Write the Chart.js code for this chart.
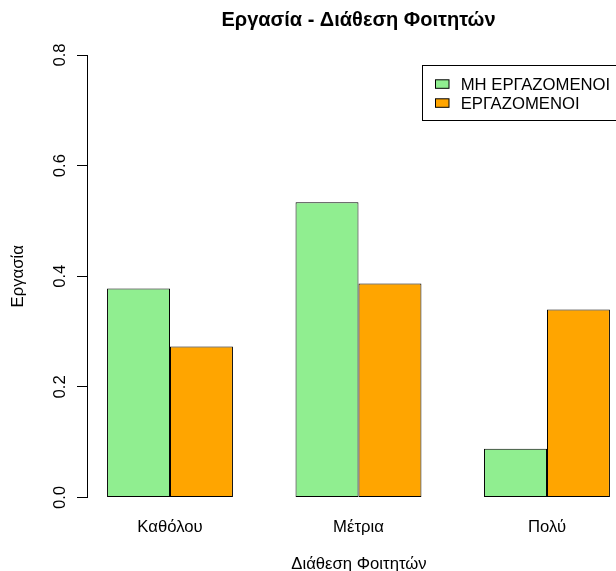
<!DOCTYPE html>
<html><head><meta charset="utf-8">
<script src="https://cdn.jsdelivr.net/npm/chart.js@4/dist/chart.umd.min.js"></script>
<style>
html,body{margin:0;padding:0;overflow:hidden;background:#fff;width:616px;height:571px}
canvas{display:block}
</style></head>
<body>
<canvas id="c" width="640" height="580" style="width:640px;height:580px"></canvas>
<script>
const categories = ['Καθόλου', 'Μέτρια', 'Πολύ'];
const seriesNames = ['ΜΗ ΕΡΓΑΖΟΜΕΝΟΙ', 'ΕΡΓΑΖΟΜΕΝΟΙ'];
const notWorking = [0.378, 0.534, 0.088];
const working = [0.273, 0.387, 0.340];
const yTicks = [0, 0.2, 0.4, 0.6, 0.8];
const yTickLabels = ['0.0', '0.2', '0.4', '0.6', '0.8'];
const chartTitle = 'Εργασία - Διάθεση Φοιτητών';
const xTitle = 'Διάθεση Φοιτητών';
const yTitle = 'Εργασία';
const colors = ['#90EE90', '#FFA500'];

const FONT = "'Liberation Sans', Arial, sans-serif";
const FS = 16.7;
Chart.defaults.font.family = FONT;
Chart.defaults.color = '#000';

const rStyle = {
  id: 'rStyle',
  afterDraw(chart) {
    const ctx = chart.ctx, y = chart.scales.y;
    ctx.save();
    ctx.fillStyle = '#000';
    ctx.font = FS + 'px ' + FONT;
    ctx.textAlign = 'center';
    ctx.textBaseline = 'middle';
    yTicks.forEach((v, i) => {
      const py = y.getPixelForValue(v);
      ctx.save();
      ctx.translate(y.left - 16.5, py);
      ctx.rotate(-Math.PI / 2);
      ctx.fillText(yTickLabels[i], 0, 0);
      ctx.restore();
    });
    ctx.save();
    ctx.translate(18.7, (y.top + y.bottom) / 2);
    ctx.rotate(-Math.PI / 2);
    ctx.fillText(yTitle, 0, 0);
    ctx.restore();

    // legend box (R style)
    ctx.lineWidth = 1;
    ctx.strokeStyle = '#000';
    ctx.strokeRect(422.5, 65.5, 300, 55);
    const rows = [85.3, 104.3];
    seriesNames.forEach((name, i) => {
      ctx.fillStyle = colors[i];
      ctx.fillRect(435.5, rows[i] - 5.5, 13.5, 8.5);
      ctx.strokeRect(435.5, rows[i] - 5.5, 13.5, 8.5);
      ctx.fillStyle = '#000';
      ctx.textAlign = 'left';
      ctx.fillText(name, 460.7, rows[i]);
    });
    ctx.restore();
  }
};

new Chart(document.getElementById('c'), {
  type: 'bar',
  data: {
    datasets: [
      { label: seriesNames[0], data: notWorking.map((v, i) => ({ x: i + 1, y: v })),
        backgroundColor: colors[0], borderColor: '#000', borderWidth: 1, borderSkipped: false },
      { label: seriesNames[1], data: working.map((v, i) => ({ x: i + 1, y: v })),
        backgroundColor: colors[1], borderColor: '#000', borderWidth: 1, borderSkipped: false }
    ]
  },
  options: {
    responsive: false,
    animation: false,
    devicePixelRatio: 1,
    categoryPercentage: 0.668,
    barPercentage: 1.0,
    layout: { padding: { left: 77, right: 0, top: 0, bottom: 0 } },
    plugins: {
      legend: { display: false },
      tooltip: { enabled: false },
      title: {
        display: true, text: chartTitle, color: '#000',
        font: { size: 20, weight: 'bold', family: FONT, lineHeight: 1.2 },
        padding: { top: 8.3, bottom: 22.7 }
      }
    },
    scales: {
      x: {
        type: 'linear', position: 'bottom', offset: false,
        min: 0.5597, max: 3.4457,
        afterBuildTicks: (s) => { s.ticks = categories.map((c, i) => ({ value: i + 1 })); },
        ticks: { callback: (v) => categories[Math.round(v) - 1] || '', font: { size: FS }, padding: 19.7, color: '#000', autoSkip: false, maxRotation: 0 },
        grid: { display: false, drawTicks: false, offset: false },
        border: { display: false },
        title: { display: true, text: xTitle, color: '#000', font: { size: FS }, padding: { top: -2.9, bottom: 5.9 } }
      },
      y: {
        type: 'linear', position: 'left', min: 0, max: 0.8,
        ticks: { display: false, stepSize: 0.2 },
        grid: { display: true, drawOnChartArea: false, drawTicks: true, tickLength: 10, color: '#000', lineWidth: 1 },
        border: { display: true, color: '#000', width: 1 }
      },
      y2: {
        type: 'linear', position: 'right', min: 0, max: 1,
        ticks: { display: false },
        grid: { display: true, drawOnChartArea: false, drawTicks: true, tickLength: 9, color: 'rgba(0,0,0,0)' },
        border: { display: false }
      }
    }
  },
  plugins: [rStyle]
});
</script>
</body></html>
